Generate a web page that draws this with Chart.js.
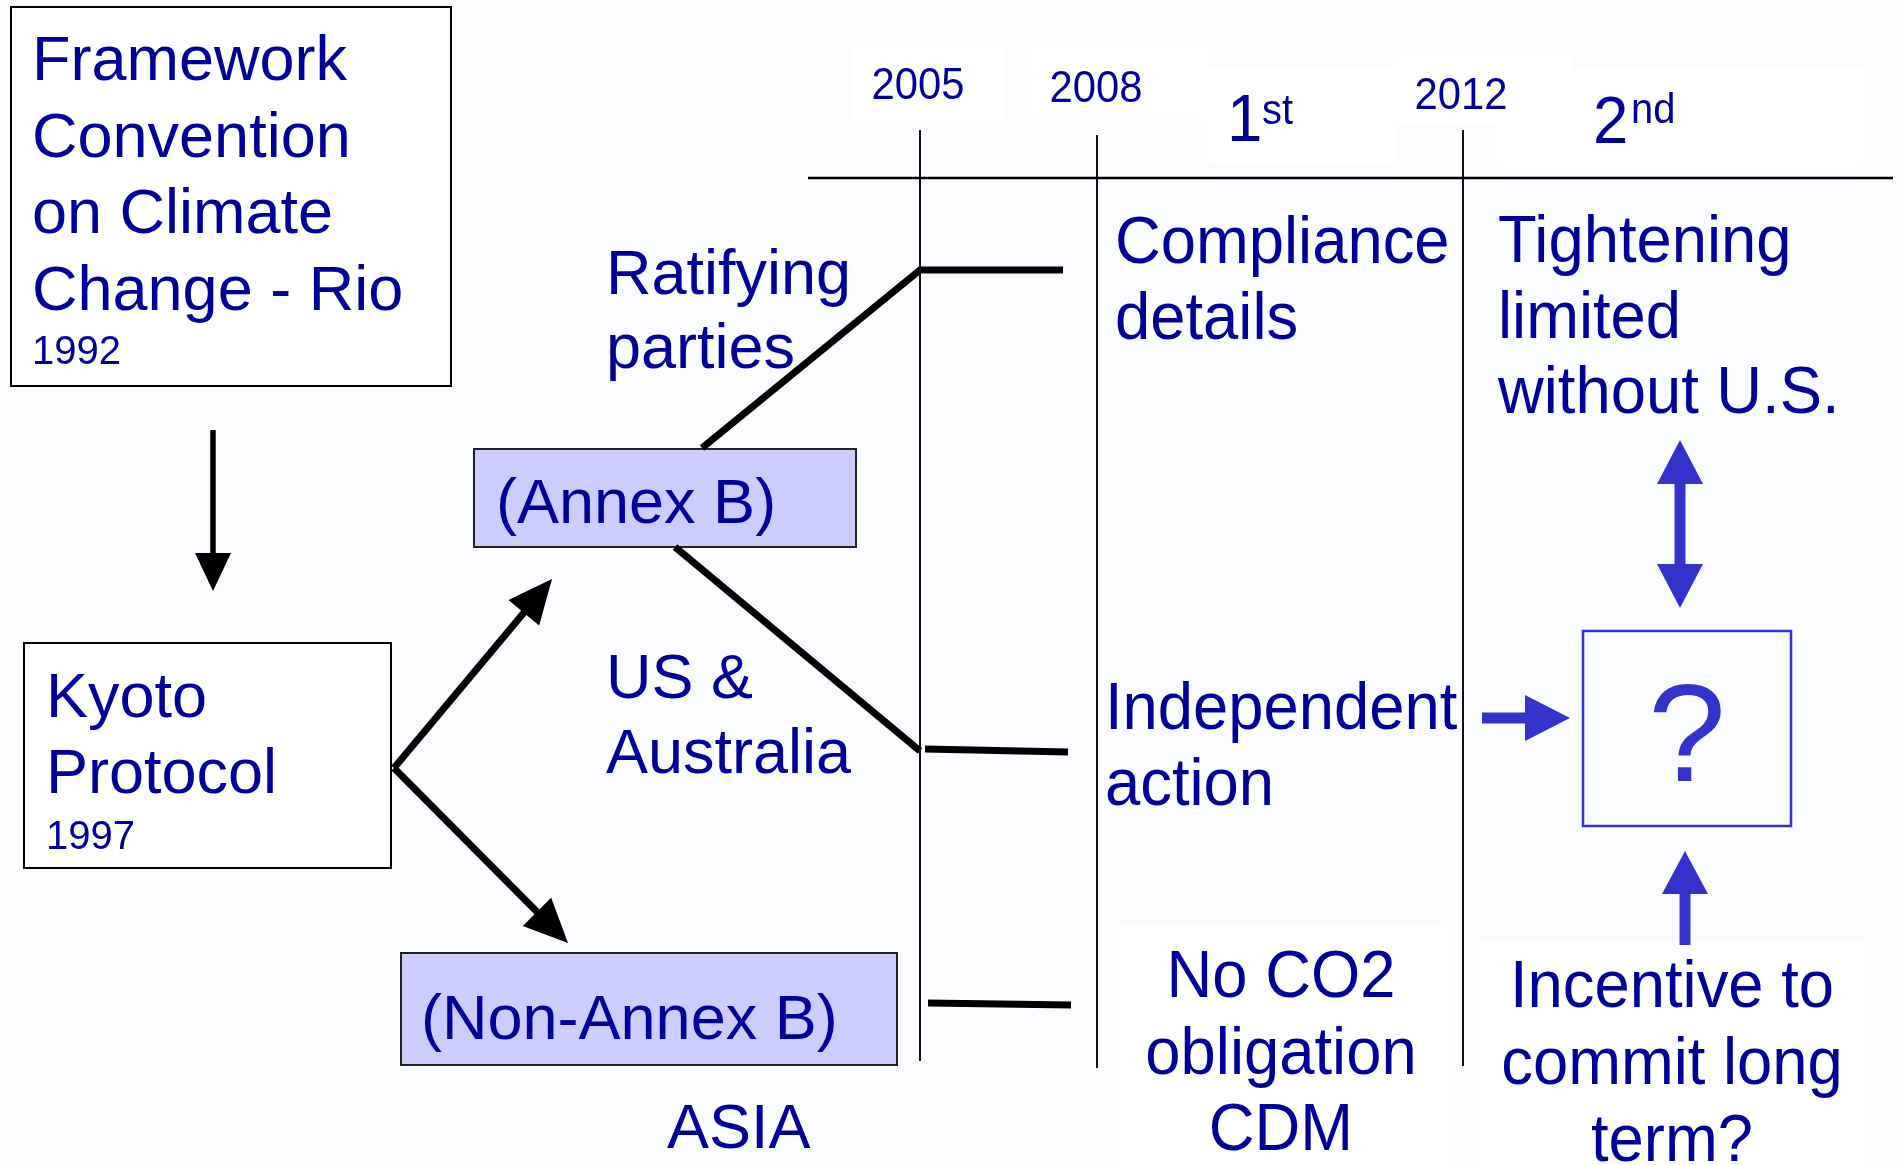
<!DOCTYPE html>
<html>
<head>
<meta charset="utf-8">
<script src="https://cdn.jsdelivr.net/npm/chart.js@4.4.1/dist/chart.umd.min.js"></script>
<style>
  html, body { margin: 0; padding: 0; background: #fbfcff; overflow: hidden; }
  canvas { display: block; }
</style>
</head>
<body>
<canvas id="diagrama" width="1899" height="1165"></canvas>
<script>
// textos e rótulos do diagrama
const anosMarco = ['2005', '2008', '2012']
const periodos = [['1', 'st'], ['2', 'nd']]
const origem = ['Framework', 'Convention', 'on Climate', 'Change - Rio']
const anoOrigem = '1992'
const protocolo = ['Kyoto', 'Protocol']
const anoProtocolo = '1997'
const grupos = ['(Annex B)', '(Non-Annex B)']
const ramos = [['Ratifying', 'parties'], ['US &', 'Australia']]
const regiao = 'ASIA'
const primeiroPeriodo = [['Compliance', 'details'], ['Independent', 'action'], ['No CO2', 'obligation', 'CDM']]
const segundoPeriodo = [['Tightening', 'limited', 'without U.S.'], ['Incentive to', 'commit long', 'term?']]
const pergunta = '?'
const rodape = '© STGN Company Confidential 2003'

const W = 1899, H = 1165
const AZUL = '#000099', AZUL2 = '#3333cc', FONTE = '"Liberation Sans", Arial, sans-serif'

// posições (layout)
const xAnos = [920, 1097, 1463]
const yAnosTopo = [130, 135, 130]
const yAnosFim = [1061, 1068, 1066]

function seg(pts, cor, larg) {
    return {
        type: 'line', data: pts.map(p => ({ x: p[0], y: p[1] })),
        borderColor: cor, borderWidth: larg, pointRadius: 0,
        borderCapStyle: 'butt', borderJoinStyle: 'miter', tension: 0, fill: false
    }
}

// setas: haste como dataset, cabeça desenhada no plugin
const setas = [
    { de: [213, 430], ate: [213, 591], larg: 5.5, cab: 38, meia: 18, cor: '#000' },
    { de: [394, 768], ate: [552, 579], larg: 7, cab: 44, meia: 20, cor: '#000' },
    { de: [394, 768], ate: [568, 943], larg: 7, cab: 44, meia: 20, cor: '#000' },
    { de: [1482, 718], ate: [1570, 718], larg: 11, cab: 45, meia: 23, cor: AZUL2 },
    { de: [1685, 945], ate: [1685, 851], larg: 11, cab: 43, meia: 23, cor: AZUL2 },
    { de: [1680, 524], ate: [1680, 440], larg: 11, cab: 44, meia: 23, cor: AZUL2 },
    { de: [1680, 524], ate: [1680, 608], larg: 11, cab: 44, meia: 23, cor: AZUL2 }
]

const datasets = []
datasets.push(seg([[808, 178], [1893, 178]], '#000', 2.5))
xAnos.forEach((x, i) => datasets.push(seg([[x, yAnosTopo[i]], [x, yAnosFim[i]]], '#111', 2)))
datasets.push(seg([[702, 448], [920, 270], [1063, 270]], '#000', 7))
datasets.push(seg([[675, 547], [920, 751]], '#000', 7))
datasets.push(seg([[925, 749], [1068, 752]], '#000', 7))
datasets.push(seg([[928, 1003], [1071, 1005]], '#000', 7))
setas.forEach(s => {
    const dx = s.ate[0] - s.de[0], dy = s.ate[1] - s.de[1]
    const len = Math.hypot(dx, dy)
    const k = (len - s.cab + 2) / len
    datasets.push(seg([s.de, [s.de[0] + dx * k, s.de[1] + dy * k]], s.cor, s.larg))
})

const caixas = [
    { r: [11, 7, 451, 386], fundo: '#ffffff', borda: '#000', larg: 2 },
    { r: [24, 643, 391, 868], fundo: '#ffffff', borda: '#000', larg: 2 },
    { r: [474, 449, 856, 547], fundo: '#ccccff', borda: '#222', larg: 2 },
    { r: [401, 953, 897, 1065], fundo: '#ccccff', borda: '#222', larg: 2 },
    { r: [1583, 631, 1791, 826], fundo: null, borda: AZUL2, larg: 2.5 }
]

const manchas = [
    [851, 48, 1005, 121], [1031, 47, 1207, 118], [1207, 68, 1394, 165],
    [1497, 70, 1865, 167], [1394, 55, 1571, 125],
    [1114, 926, 1447, 1165], [1480, 941, 1865, 1165]
]

// blocos de texto: linhas, x, baseline, entrelinha, tamanho, alinhamento, escala horizontal
const textos = [
    { l: origem, x: 32, y: 80, lh: 76.5, t: 63 },
    { l: [anoOrigem], x: 32, y: 364, lh: 0, t: 40 },
    { l: protocolo, x: 46, y: 717, lh: 76, t: 63 },
    { l: [anoProtocolo], x: 46, y: 849, lh: 0, t: 40 },
    { l: ramos[0], x: 606, y: 294, lh: 74, t: 63 },
    { l: ramos[1], x: 606, y: 698, lh: 75, t: 63 },
    { l: [grupos[0]], x: 496, y: 523, lh: 0, t: 63 },
    { l: [grupos[1]], x: 421, y: 1039, lh: 0, t: 63 },
    { l: [regiao], x: 667, y: 1148, lh: 0, t: 63 },
    { l: primeiroPeriodo[0], x: 1115, y: 263, lh: 76, t: 66, sx: 0.96 },
    { l: primeiroPeriodo[1], x: 1105, y: 729, lh: 76, t: 66, sx: 0.96 },
    { l: primeiroPeriodo[2], x: 1281, y: 997, lh: 76.5, t: 66, sx: 0.96, a: 'center' },
    { l: segundoPeriodo[0], x: 1498, y: 262, lh: 75.5, t: 66, sx: 0.96 },
    { l: segundoPeriodo[1], x: 1672, y: 1007, lh: 77, t: 66, sx: 0.96, a: 'center' },
    { l: [anosMarco[0]], x: 918, y: 99, lh: 0, t: 44, sx: 0.95, a: 'center' },
    { l: [anosMarco[1]], x: 1096, y: 102, lh: 0, t: 44, sx: 0.95, a: 'center' },
    { l: [anosMarco[2]], x: 1461, y: 109, lh: 0, t: 44, sx: 0.95, a: 'center' },
    { l: [periodos[0][0]], x: 1227, y: 141, lh: 0, t: 67, sx: 0.95 },
    { l: [periodos[0][1]], x: 1262, y: 124, lh: 0, t: 42, sx: 0.95 },
    { l: [periodos[1][0]], x: 1593, y: 143, lh: 0, t: 67, sx: 0.95 },
    { l: [periodos[1][1]], x: 1631, y: 123, lh: 0, t: 42, sx: 0.95 },
    { l: [pergunta], x: 1687, y: 781, lh: 0, t: 140, a: 'center', cor: AZUL2 },
    { l: [rodape], x: 2, y: 1177, lh: 0, t: 16, cor: '#000' },
    { l: ['3'], x: 1868, y: 1177, lh: 0, t: 16, cor: '#000' }
]

const plugDiagrama = {
    id: 'diagrama',
    beforeDraw(chart) {
        const c = chart.ctx, sx = chart.scales.x, sy = chart.scales.y
        c.save()
        c.fillStyle = '#fbfcff'
        c.fillRect(0, 0, chart.width, chart.height)
        c.fillStyle = '#ffffff'
        manchas.forEach(m => {
            const x0 = sx.getPixelForValue(m[0]), y0 = sy.getPixelForValue(m[1])
            c.fillRect(x0, y0, sx.getPixelForValue(m[2]) - x0, sy.getPixelForValue(m[3]) - y0)
        })
        caixas.forEach(b => {
            const x0 = sx.getPixelForValue(b.r[0]), y0 = sy.getPixelForValue(b.r[1])
            const w = sx.getPixelForValue(b.r[2]) - x0, h = sy.getPixelForValue(b.r[3]) - y0
            if (b.fundo) { c.fillStyle = b.fundo; c.fillRect(x0, y0, w, h) }
            c.strokeStyle = b.borda
            c.lineWidth = b.larg
            c.strokeRect(x0, y0, w, h)
        })
        c.restore()
    },
    afterDatasetsDraw(chart) {
        const c = chart.ctx, sx = chart.scales.x, sy = chart.scales.y
        c.save()
        // cabeças das setas
        setas.forEach(s => {
            const tx = sx.getPixelForValue(s.ate[0]), ty = sy.getPixelForValue(s.ate[1])
            const fx = sx.getPixelForValue(s.de[0]), fy = sy.getPixelForValue(s.de[1])
            const len = Math.hypot(tx - fx, ty - fy)
            const ux = (tx - fx) / len, uy = (ty - fy) / len
            const bx = tx - ux * s.cab, by = ty - uy * s.cab
            c.fillStyle = s.cor
            c.beginPath()
            c.moveTo(tx, ty)
            c.lineTo(bx - uy * s.meia, by + ux * s.meia)
            c.lineTo(bx + uy * s.meia, by - ux * s.meia)
            c.closePath()
            c.fill()
        })
        // textos
        textos.forEach(t => {
            c.font = `${t.t}px ${FONTE}`
            c.fillStyle = t.cor || AZUL
            c.textBaseline = 'alphabetic'
            c.textAlign = t.a || 'left'
            t.l.forEach((linha, i) => {
                const x = sx.getPixelForValue(t.x), y = sy.getPixelForValue(t.y + i * t.lh)
                c.save()
                c.translate(x, y)
                c.scale(t.sx || 1, 1)
                c.fillText(linha, 0, 0)
                c.restore()
            })
        })
        c.restore()
    }
}

const ctx = document.getElementById('diagrama').getContext('2d')
new Chart(ctx, {
    type: 'scatter',
    data: { datasets },
    options: {
        responsive: false,
        animation: false,
        layout: { padding: 0 },
        plugins: { legend: { display: false }, tooltip: { enabled: false } },
        scales: {
            x: { type: 'linear', min: 0, max: W, display: false },
            y: { type: 'linear', min: 0, max: H, reverse: true, display: false }
        }
    },
    plugins: [plugDiagrama]
})
</script>
</body>
</html>
